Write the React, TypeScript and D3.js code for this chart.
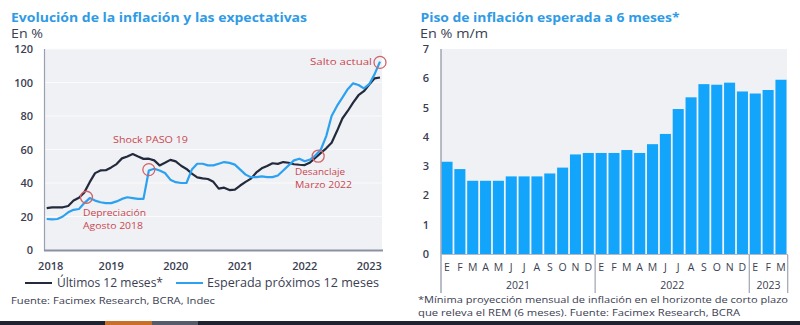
import React from "react";
import * as d3 from "d3";

// ---------- Left chart data (monthly, Jan 2018 – Mar 2023) ----------
const ultimos12: number[] = [
  25.0, 25.4, 25.4, 25.5, 26.3, 29.5, 31.2, 34.4, 40.5, 45.9, 47.5, 47.6,
  49.3, 51.3, 54.7, 55.8, 57.3, 55.8, 54.4, 54.5, 53.5, 50.5, 52.1, 53.8,
  52.9, 50.3, 48.4, 45.6, 43.4, 42.8, 42.4, 40.7, 36.6, 37.2, 35.8, 36.1,
  38.5, 40.7, 42.6, 46.3, 48.8, 50.2, 51.8, 51.4, 52.5, 52.1, 51.2, 50.9,
  50.7, 52.3, 55.1, 58.0, 60.7, 64.0, 71.0, 78.5, 83.0, 88.0, 92.4, 94.8,
  98.8, 102.5, 103.0,
];
const esperada12: number[] = [
  18.5, 18.3, 18.5, 20.0, 22.5, 24.0, 24.5, 28.0, 31.0, 29.5, 28.5, 28.0,
  28.0, 29.0, 30.5, 31.5, 31.0, 30.5, 30.5, 47.5, 48.5, 47.5, 46.0, 42.0,
  40.5, 40.0, 40.0, 48.0, 51.5, 51.5, 50.5, 50.5, 51.5, 52.5, 52.0, 51.0,
  48.0, 45.0, 43.5, 43.5, 44.0, 43.5, 43.5, 44.5, 47.5, 50.5, 53.5, 54.5,
  53.0, 54.0, 56.5, 60.0, 68.0, 80.0, 86.0, 91.0, 96.0, 99.5, 98.5, 96.5,
  99.0, 105.0, 112.5,
];
const yearLabelsLeft = ["2018", "2019", "2020", "2021", "2022", "2023"];
const leftYTicks = [0, 20, 40, 60, 80, 100, 120];

// ---------- Right chart data ----------
const monthLabels = ["E","F","M","A","M","J","J","A","S","O","N","D","E","F","M","A","M","J","J","A","S","O","N","D","E","F","M"];
const pisoValues: number[] = [
  3.15, 2.9, 2.5, 2.5, 2.5, 2.65, 2.65, 2.65, 2.75, 2.95, 3.4, 3.45,
  3.45, 3.45, 3.55, 3.45, 3.75, 4.1, 4.95, 5.35, 5.8, 5.78, 5.85, 5.55,
  5.48, 5.6, 5.95,
];
const yearGroups = [
  { label: "2021", count: 12 },
  { label: "2022", count: 12 },
  { label: "2023", count: 3 },
];
const rightYTicks = [0, 1, 2, 3, 4, 5, 6, 7];

const FONT = "'Open Sans', 'DejaVu Sans', sans-serif";
const DARK = "#222a3c";
const BLUE = "#2ba1f0";
const RED = "#c9474f";
const TXT = "#3a4052";
const TITLE = "#2f9be5";
const ADJ = "spacingAndGlyphs";

export default function App() {
  // Left scales
  const lx = d3.scaleLinear().domain([0, 62]).range([46.7, 380]);
  const ly = d3.scaleLinear().domain([0, 120]).range([250, 49]);
  const line = d3
    .line<number>()
    .x((_, i) => lx(i))
    .y((d) => ly(d))
    .curve(d3.curveLinear);

  // Right scales
  const idx = pisoValues.map((_, i) => i);
  const rx = d3.scaleBand<number>().domain(idx).range([441, 787]).paddingInner(0.14).paddingOuter(0.04);
  const ry = d3.scaleLinear().domain([0, 7]).range([254, 49]);
  const step = rx.step();
  const rx0 = 441;

  const circles = [
    { i: 7.4, v: 31.5, text: ["Depreciación", "Agosto 2018"], lens: [63, 60], tx: 83, ty: 216, anchor: "start" },
    { i: 19, v: 48, text: ["Shock PASO 19"], lens: [75], tx: 113, ty: 143, anchor: "start" },
    { i: 50.5, v: 56, text: ["Desanclaje", "Marzo 2022"], lens: [50, 57], tx: 295, ty: 175, anchor: "start" },
    { i: 62, v: 112, text: ["Salto actual"], lens: [62], tx: 310, ty: 65, anchor: "start" },
  ];

  let acc = 0;
  const groups = yearGroups.map((g) => {
    const start = rx0 + acc * step;
    acc += g.count;
    const end = rx0 + acc * step;
    return { ...g, start, end };
  });

  return (
    <svg
      width={800}
      height={325}
      style={{ position: "absolute", left: 0, top: 0, background: "#fff" }}
      fontFamily={FONT}
    >
      {/* ---------- LEFT CHART ---------- */}
      <text x={11} y={22} fontSize={13} fontWeight={700} fill={TITLE} textLength={296} lengthAdjust={ADJ}>
        Evolución de la inflación y las expectativas
      </text>
      <text x={11} y={37.5} fontSize={12} fill={TXT} textLength={32} lengthAdjust={ADJ}>En %</text>

      <rect x={45} y={49} width={337} height={201} fill="#f0f1f5" />
      {leftYTicks.slice(1).map((t) => (
        <line key={t} x1={45} x2={382} y1={ly(t)} y2={ly(t)} stroke="#fbfbfd" strokeWidth={1.2} />
      ))}
      <line x1={44.5} x2={44.5} y1={49} y2={251} stroke="#9aa0b2" strokeWidth={1.2} />
      <line x1={44} x2={383} y1={250.5} y2={250.5} stroke="#8b91a3" strokeWidth={2} />
      {leftYTicks.map((t) => (
        <text key={t} x={33} y={ly(t) + 4} fontSize={11} fontWeight={600} fill={TXT} textAnchor="end">
          {t}
        </text>
      ))}
      {yearLabelsLeft.map((y, k) => (
        <text key={y} x={lx(k * 12) + (k === 0 ? 4 : 0)} y={270} fontSize={11} fontWeight={600} fill={TXT} textAnchor="middle">
          {y}
        </text>
      ))}

      <path d={line(ultimos12) || ""} fill="none" stroke={DARK} strokeWidth={2.2} strokeLinejoin="round" />
      <path d={line(esperada12) || ""} fill="none" stroke={BLUE} strokeWidth={2.2} strokeLinejoin="round" />

      {circles.map((c, k) => (
        <g key={k}>
          <circle cx={lx(c.i)} cy={ly(c.v)} r={6} fill="none" stroke="#d0646a" strokeWidth={1.3} />
          {c.text.map((t, j) => (
            <text key={j} x={c.tx} y={c.ty + j * 13} fontSize={9.5} fill={RED} textAnchor={c.anchor as any} textLength={c.lens[j]} lengthAdjust={ADJ}>
              {t}
            </text>
          ))}
        </g>
      ))}

      {/* legend */}
      <line x1={25} x2={52} y1={283} y2={283} stroke={DARK} strokeWidth={2} />
      <text x={57} y={287} fontSize={12} fill={TXT} textLength={106} lengthAdjust={ADJ}>Últimos 12 meses*</text>
      <line x1={176} x2={203} y1={283} y2={283} stroke={BLUE} strokeWidth={2} />
      <text x={207} y={287} fontSize={12} fill={TXT} textLength={172} lengthAdjust={ADJ}>Esperada próximos 12 meses</text>
      <text x={11} y={304} fontSize={9.5} fill={TXT} textLength={204} lengthAdjust={ADJ}>Fuente: Facimex Research, BCRA, Indec</text>

      {/* ---------- RIGHT CHART ---------- */}
      <text x={420.5} y={22} fontSize={13} fontWeight={700} fill={TITLE} textLength={259} lengthAdjust={ADJ}>
        Piso de inflación esperada a 6 meses*
      </text>
      <text x={420} y={37.5} fontSize={12} fill={TXT} textLength={68} lengthAdjust={ADJ}>En % m/m</text>

      <rect x={441} y={49} width={346} height={205} fill="#f0f1f5" />
      {rightYTicks.map((t) => (
        <text key={t} x={429} y={ry(t) + 4} fontSize={11} fontWeight={600} fill={TXT} textAnchor="end">
          {t}
        </text>
      ))}
      {pisoValues.map((v, i) => (
        <rect key={i} x={rx(i)} y={ry(v)} width={rx.bandwidth()} height={ry(0) - ry(v)} fill="#12a5fb" />
      ))}
      <line x1={441} x2={441} y1={49} y2={293} stroke="#8b91a3" strokeWidth={1.2} />
      <line x1={441} x2={788} y1={254.5} y2={254.5} stroke="#b4b8c4" strokeWidth={1} />
      {monthLabels.map((m, i) => (
        <text key={i} x={(rx(i) || 0) + rx.bandwidth() / 2} y={271} fontSize={10.5} fill={TXT} textAnchor="middle">
          {m}
        </text>
      ))}
      {groups.map((g) => (
        <g key={g.label}>
          <line x1={g.end} x2={g.end} y1={255} y2={293} stroke="#8b91a3" strokeWidth={1} />
          <text x={(g.start + g.end) / 2} y={289} fontSize={10.5} fill={TXT} textAnchor="middle">
            {g.label}
          </text>
        </g>
      ))}
      <text x={418} y={303} fontSize={9.5} fill={TXT} textLength={370} lengthAdjust={ADJ}>
        *Mínima proyección mensual de inflación en el horizonte de corto plazo
      </text>
      <text x={418} y={316} fontSize={9.5} fill={TXT} textLength={322} lengthAdjust={ADJ}>
        que releva el REM (6 meses). Fuente: Facimex Research, BCRA
      </text>

      {/* bottom slide strip */}
      <rect x={0} y={321} width={800} height={4} fill="#1f2330" />
      <rect x={105} y={321} width={47} height={4} fill="#c8702a" />
      <rect x={152} y={321} width={46} height={4} fill="#555b68" />
    </svg>
  );
}
